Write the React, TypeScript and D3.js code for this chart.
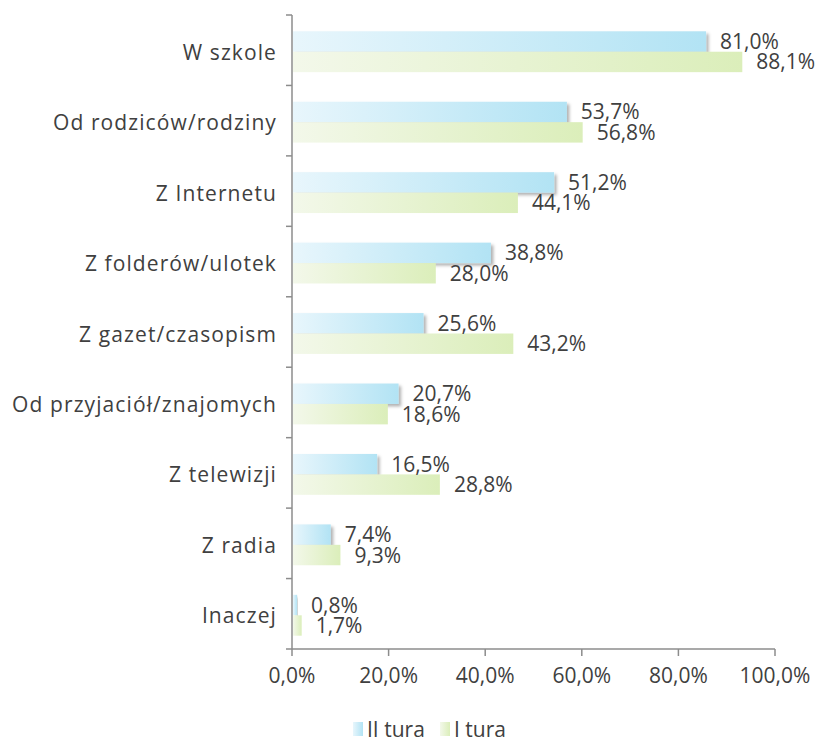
import React from "react";
import * as d3 from "d3";

const categories = [
  "W szkole",
  "Od rodziców/rodziny",
  "Z Internetu",
  "Z folderów/ulotek",
  "Z gazet/czasopism",
  "Od przyjaciół/znajomych",
  "Z telewizji",
  "Z radia",
  "Inaczej",
];
const seriesNames = ["II tura", "I tura"];
const tura2 = [81.0, 53.7, 51.2, 38.8, 25.6, 20.7, 16.5, 7.4, 0.8];
const tura1 = [88.1, 56.8, 44.1, 28.0, 43.2, 18.6, 28.8, 9.3, 1.7];
const xTicks = [0, 20, 40, 60, 80, 100];

const W = 838;
const H = 738;
const FONT = "'Open Sans', 'Noto Sans', sans-serif";
const TEXT = "#404040";
const AXIS = "#8c8c8c";

const fmt = (v: number) => v.toFixed(1).replace(".", ",") + "%";

export default function App() {
  const axisLeft = 292;
  const plotTop = 15;
  const plotBottom = 649;

  // axis tick labels scale
  const xAxis = d3.scaleLinear().domain([0, 100]).range([axisLeft, 775]);
  // bar length scale (as drawn in the reference)
  const xBar = d3.scaleLinear().domain([0, 100]).range([axisLeft + 1, 803]);

  const y = d3
    .scaleBand<string>()
    .domain(categories)
    .range([plotTop, plotBottom])
    .paddingInner(0.42)
    .paddingOuter(0.21);
  const step = y.step();
  const ySeries = d3
    .scaleBand<string>()
    .domain(seriesNames)
    .range([0, y.bandwidth()])
    .padding(0);

  const data = [tura2, tura1];
  const gradIds = ["gBlue", "gGreen"];
  const boundaries = d3.range(categories.length + 1).map((i) => plotTop + i * step);

  return (
    <svg
      width={W}
      height={H}
      style={{ position: "absolute", left: 0, top: 0, background: "#fff" }}
      fontFamily={FONT}
    >
      <defs>
        <linearGradient id="gBlue" x1="0" x2="1" y1="0" y2="0">
          <stop offset="0" stopColor="#e8f6fc" />
          <stop offset="1" stopColor="#b2e3f4" />
        </linearGradient>
        <linearGradient id="gGreen" x1="0" x2="1" y1="0" y2="0">
          <stop offset="0" stopColor="#f3f8ea" />
          <stop offset="1" stopColor="#dbeeba" />
        </linearGradient>
        <filter id="shadow" x="-10%" y="-20%" width="130%" height="160%">
          <feDropShadow dx="2.5" dy="2.5" stdDeviation="1.5" floodColor="#000" floodOpacity="0.3" />
        </filter>
      </defs>

      {/* bars */}
      {categories.map((c, i) => (
        <g key={c} transform={`translate(0,${(y(c) as number) + 1.5})`}>
          {seriesNames.map((s, si) => {
            const v = data[si][i];
            const by = ySeries(s) as number;
            const bh = ySeries.bandwidth();
            return (
              <rect
                key={s}
                x={xBar(0)}
                y={by}
                width={Math.max(1, xBar(v) - xBar(0))}
                height={bh}
                fill={`url(#${gradIds[si]})`}
                filter={si === 0 ? "url(#shadow)" : undefined}
              />
            );
          })}
        </g>
      ))}
      {/* value labels */}
      {categories.map((c, i) => (
        <g key={c + "l"} transform={`translate(0,${(y(c) as number) + 1.5})`}>
          {seriesNames.map((s, si) => {
            const v = data[si][i];
            const by = ySeries(s) as number;
            const bh = ySeries.bandwidth();
            return (
              <text
                key={s}
                x={xBar(v) + 14}
                y={by + bh / 2 + 7.5}
                fontSize={21}
                fill={TEXT}
              >
                {fmt(v)}
              </text>
            );
          })}
        </g>
      ))}

      {/* y axis */}
      <line x1={axisLeft} x2={axisLeft} y1={plotTop} y2={plotBottom} stroke={AXIS} strokeWidth={1.5} />
      {boundaries.map((b, i) => (
        <line key={i} x1={axisLeft - 6} x2={axisLeft} y1={b} y2={b} stroke={AXIS} strokeWidth={1.5} />
      ))}
      {categories.map((c) => (
        <text
          key={c}
          x={277}
          y={(y(c) as number) + y.bandwidth() / 2 + 9.5}
          textAnchor="end"
          fontSize={21}
          letterSpacing={1.1}
          fill={TEXT}
        >
          {c}
        </text>
      ))}

      {/* x axis */}
      <line x1={axisLeft} x2={xAxis(100)} y1={plotBottom} y2={plotBottom} stroke={AXIS} strokeWidth={1.5} />
      {xTicks.map((t) => (
        <g key={t}>
          <line x1={xAxis(t)} x2={xAxis(t)} y1={plotBottom} y2={plotBottom + 7} stroke={AXIS} strokeWidth={1.5} />
          <text x={xAxis(t)} y={683} textAnchor="middle" fontSize={21} fill={TEXT}>
            {fmt(t)}
          </text>
        </g>
      ))}

      {/* legend */}
      {seriesNames.map((s, si) => {
        const lx = [353, 440][si];
        return (
          <g key={s}>
            <rect x={lx} y={722} width={10} height={14} fill={`url(#${gradIds[si]})`} />
            <text x={lx + 14} y={737} fontSize={21} fill={TEXT}>
              {s}
            </text>
          </g>
        );
      })}
    </svg>
  );
}
